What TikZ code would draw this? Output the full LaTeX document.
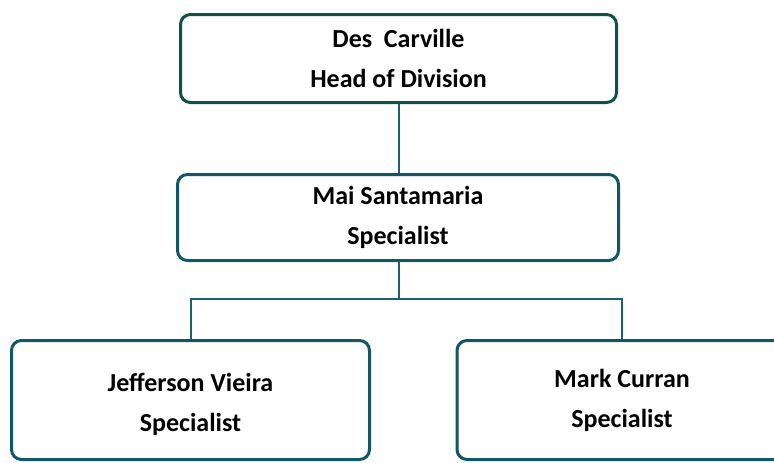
\documentclass[tikz,border=0pt]{standalone}
\usepackage{fontspec}
\setmainfont{Carlito}
\begin{document}
\begin{tikzpicture}[x=1pt,y=-1pt,
  box/.style={draw=#1, line width=3pt, rounded corners=10pt, fill=white,
    inner sep=0pt},
  caption/.style={font=\bfseries\fontsize{26}{40}\selectfont, align=center,
    inner sep=0pt},
  link/.style={draw=linkc, line width=2pt}]
\definecolor{topc}{HTML}{10524A}
\definecolor{midc}{HTML}{13566A}
\definecolor{linkc}{HTML}{1F5E6E}
\useasboundingbox (0,0) rectangle (774,463);
\clip (0,0) rectangle (774,463);
% boxes
\node[box=topc, minimum width=436pt, minimum height=88pt] (head) at (398.5,58.5) {};
\node[box=midc, minimum width=441pt, minimum height=86pt] (mai) at (398,217.5) {};
\node[box=midc, minimum width=358pt, minimum height=119pt] (jeff) at (190.5,400) {};
\node[box=midc, minimum width=330pt, minimum height=119pt] (mark) at (622,400) {};
% names and roles
\node[caption] (headtext) at (head.center) {Des\ \ Carville\\Head of Division};
\node[caption] (maitext) at (mai.center) {Mai Santamaria\\Specialist};
\node[caption] (jefftext) at ([yshift=-4pt]jeff.center) {Jefferson Vieira\\Specialist};
\node[caption] (marktext) at (mark.center) {Mark Curran\\Specialist};
% connectors
\coordinate (split) at (399,299);
\draw[link] (head.south -| split) -- (mai.north -| split);
\draw[link] (mai.south -| split) -- (split);
\draw[link] (jeff.north) |- (split) -| (mark.north);
\end{tikzpicture}
\end{document}
